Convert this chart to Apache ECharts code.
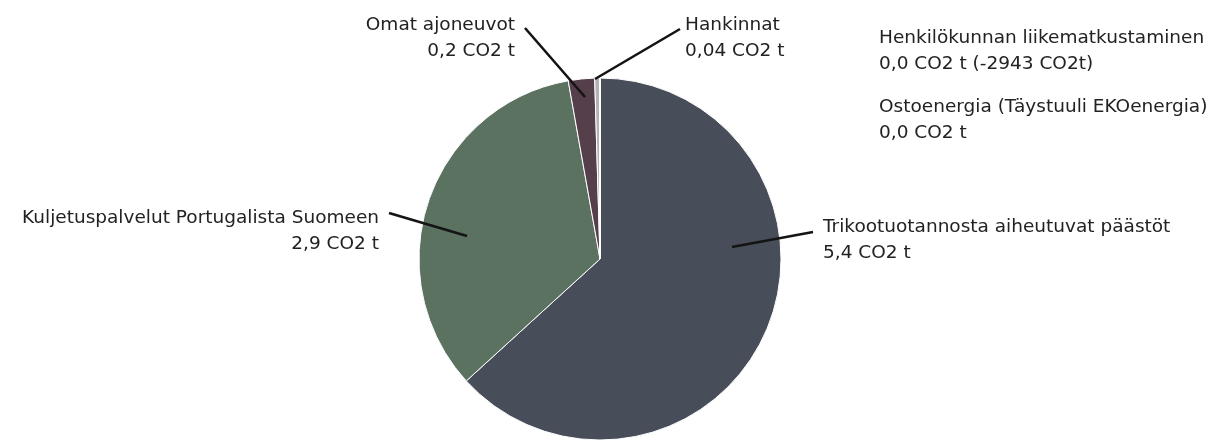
<!DOCTYPE html>
<html>
<head>
<meta charset="utf-8">
<script src="https://cdn.jsdelivr.net/npm/echarts@6/dist/echarts.min.js"></script>
<style>
html,body{margin:0;padding:0;background:#fff;}
#chart{width:1230px;height:441px;}
</style>
</head>
<body>
<div id="chart"></div>
<script>
// ---- data ----
const categories = [
  'Trikootuotannosta aiheutuvat päästöt',
  'Kuljetuspalvelut Portugalista Suomeen',
  'Omat ajoneuvot',
  'Hankinnat',
  'Henkilökunnan liikematkustaminen',
  'Ostoenergia (Täystuuli EKOenergia)'
];
const values = [5.4, 2.9, 0.2, 0.04, 0, 0];
const valueLabels = [
  '5,4 CO2 t',
  '2,9 CO2 t',
  '0,2 CO2 t',
  '0,04 CO2 t',
  '0,0 CO2 t (-2943 CO2t)',
  '0,0 CO2 t'
];
const colors = ['#474e5a', '#5b7261', '#543f4a', '#b3b3b3', '#999999', '#777777'];

// ---- label layout (positions only) ----
const labelPos = [
  {x: 823, y: 240, align: 'left',  line: [[732, 247], [813, 232]]},
  {x: 379, y: 231, align: 'right', line: [[467, 236], [389, 213]]},
  {x: 515, y: 38,  align: 'right', line: [[585, 97], [525, 28]]},
  {x: 685, y: 38,  align: 'left',  line: [[595, 79], [680, 29]]},
  {x: 879, y: 51,  align: 'left',  line: null},
  {x: 879, y: 120, align: 'left',  line: null}
];

const chart = echarts.init(document.getElementById('chart'), null, {renderer: 'canvas'});
const FONT = 'DejaVu Sans';

const pieBase = {
  type: 'pie',
  center: [600, 259],
  radius: [0, 181],
  startAngle: 90,
  clockwise: true,
  avoidLabelOverlap: false,
  silent: true
};

chart.setOption({
  animation: false,
  backgroundColor: '#ffffff',
  series: [
    Object.assign({}, pieBase, {
      z: 2,
      itemStyle: {borderColor: '#ffffff', borderWidth: 1},
      label: {show: false},
      labelLine: {show: false},
      data: categories.map((c, i) => ({
        name: c,
        value: values[i],
        itemStyle: {color: colors[i]}
      }))
    }),
    Object.assign({}, pieBase, {
      z: 5,
      itemStyle: {color: 'rgba(0,0,0,0)', borderWidth: 0},
      label: {
        show: true,
        position: 'outside',
        color: '#222222',
        fontFamily: FONT,
        fontSize: 18.5,
        lineHeight: 26,
        formatter: p => p.name + '\n' + valueLabels[p.dataIndex]
      },
      labelLine: {
        show: true,
        showAbove: true,
        length: 10,
        length2: 10,
        lineStyle: {color: '#141414', width: 2.6}
      },
      labelLayout: function (params) {
        const lp = labelPos[params.dataIndex];
        const res = {x: lp.x, y: lp.y, align: lp.align, verticalAlign: 'middle'};
        if (lp.line) {
          const a = lp.line[0], b = lp.line[1];
          res.labelLinePoints = [a, [(a[0] + b[0]) / 2, (a[1] + b[1]) / 2], b];
        }
        return res;
      },
      data: categories.map((c, i) => ({
        name: c,
        value: values[i],
        labelLine: {show: labelPos[i].line !== null, lineStyle: {color: '#141414', width: 2.6}}
      }))
    })
  ]
});
</script>
</body>
</html>
